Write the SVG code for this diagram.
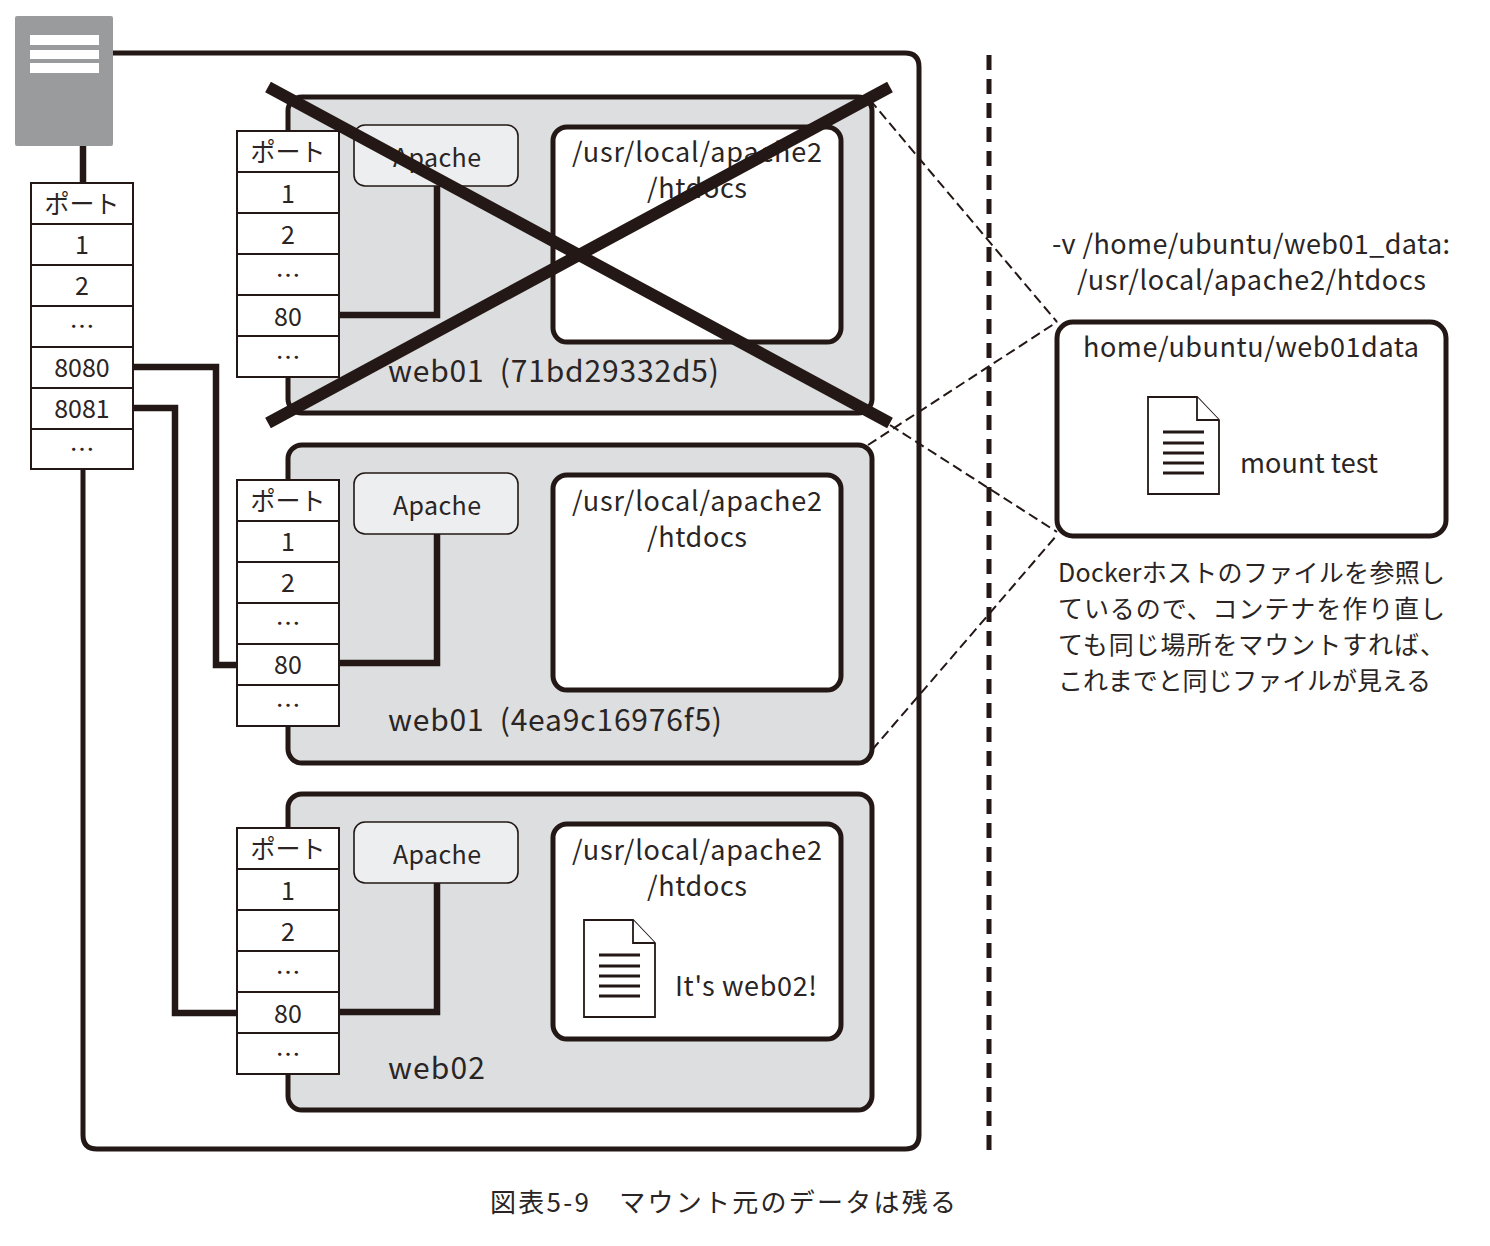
<svg xmlns="http://www.w3.org/2000/svg" xmlns:xlink="http://www.w3.org/1999/xlink" width="1490" height="1246" viewBox="0 0 1490 1246">
<style>
text{font-family:"Noto Sans CJK JP","Noto Sans",sans-serif;fill:#2a2524;font-size:27px}
.m{text-anchor:middle}
.p{font-size:25px;text-anchor:middle}
.j{font-size:25px}
.w{font-size:30px}
.cont{fill:#dcdedf;stroke:#231815;stroke-width:5}
.dir{fill:#fff;stroke:#231815;stroke-width:5}
.ap{fill:#eceeef;stroke:#231815;stroke-width:1.6}
.tb{fill:#fff;stroke:#231815;stroke-width:2}
.ln{fill:none;stroke:#231815;stroke-width:6.5}
.dash{fill:none;stroke:#231815;stroke-width:2;stroke-dasharray:10 5}
.doc{fill:#fff;stroke:#231815;stroke-width:1.8}
.dl{stroke:#231815;stroke-width:3;fill:none}
.x{stroke:#231815;stroke-width:12;fill:none}
</style>
<defs>
<g id="rows">
<rect class="tb" x="0" y="0" width="102" height="246"/>
<path class="dl" style="stroke-width:2" d="M0 41H102M0 82H102M0 123H102M0 164H102M0 205H102"/>
</g>
<g id="docicon">
<path class="doc" d="M0 0H49L71 23V97H0Z"/>
<path class="doc" d="M49 0V23H71"/>
<path class="dl" d="M15 35H56M15 46H56M15 56H56M15 66H56M15 76H56"/>
</g>
</defs>
<rect width="1490" height="1246" fill="#fff"/>

<g id="host">
<path fill="none" stroke="#231815" stroke-width="5" d="M110 53H905Q919 53 919 67V1135Q919 1149 905 1149H97Q83 1149 83 1135V465"/>
</g>

<g id="container-web01-old">
<rect class="cont" x="288" y="97" width="584" height="316" rx="14"/>
<rect class="dir" x="553" y="127" width="288" height="215" rx="14"/>
<text class="m" x="697" y="162" textLength="250">/usr/local/apache2</text>
<text class="m" x="697" y="198" textLength="100">/htdocs</text>
<text class="w" x="388" y="382" textLength="331">web01&#160;&#160;(71bd29332d5)</text>
</g>
<g id="container-web01-new">
<rect class="cont" x="288" y="445" width="584" height="318" rx="14"/>
<rect class="dir" x="553" y="475" width="288" height="215" rx="14"/>
<text class="m" x="697" y="511" textLength="250">/usr/local/apache2</text>
<text class="m" x="697" y="547" textLength="100">/htdocs</text>
<text class="w" x="388" y="731" textLength="334">web01&#160;&#160;(4ea9c16976f5)</text>
</g>
<g id="container-web02">
<rect class="cont" x="288" y="794" width="584" height="316" rx="14"/>
<rect class="dir" x="553" y="824" width="288" height="215" rx="14"/>
<text class="m" x="697" y="860" textLength="250">/usr/local/apache2</text>
<text class="m" x="697" y="896" textLength="100">/htdocs</text>
<use xlink:href="#docicon" href="#docicon" x="584" y="920"/>
<text x="675" y="996" textLength="142">It's web02!</text>
<text class="w" x="388" y="1079" textLength="97">web02</text>
</g>

<g id="connectors">
<path class="ln" d="M83 146V183"/>
<path class="ln" d="M133 367H216V665H237"/>
<path class="ln" d="M133 408H175V1013H237"/>
<path class="ln" d="M437 186V315H338"/>
<path class="ln" d="M437 534V663H338"/>
<path class="ln" d="M437 883V1012H338"/>
<path class="dash" d="M870 100L1057 322"/>
<path class="dash" d="M868 445L1057 322"/>
<path class="dash" d="M890 425L1057 532"/>
<path class="dash" d="M872 750L1057 535"/>
</g>

<g id="server">
<rect x="15" y="16" width="98" height="130" rx="2" fill="#9a9b9d"/>
<path fill="#fff" d="M30 35H99V45H30ZM30 50H99V59H30ZM30 63H99V73H30Z"/>
</g>

<g id="host-ports">
<use xlink:href="#rows" href="#rows" x="31" y="183"/>
<rect class="tb" x="31" y="429" width="102" height="40"/>
<text class="p" x="82" y="213">ポート</text>
<text class="p" x="82" y="254">1</text>
<text class="p" x="82" y="295">2</text>
<text class="p" x="82" y="336">…</text>
<text class="p" x="82" y="377">8080</text>
<text class="p" x="82" y="418">8081</text>
<text class="p" x="82" y="459">…</text>
</g>

<g id="ports-web01-old">
<use xlink:href="#rows" href="#rows" x="237" y="131"/>
<text class="p" x="288" y="161">ポート</text>
<text class="p" x="288" y="203">1</text>
<text class="p" x="288" y="244">2</text>
<text class="p" x="288" y="285">…</text>
<text class="p" x="288" y="326">80</text>
<text class="p" x="288" y="367">…</text>
</g>
<g id="ports-web01-new">
<use xlink:href="#rows" href="#rows" x="237" y="480"/>
<text class="p" x="288" y="510">ポート</text>
<text class="p" x="288" y="551">1</text>
<text class="p" x="288" y="592">2</text>
<text class="p" x="288" y="633">…</text>
<text class="p" x="288" y="674">80</text>
<text class="p" x="288" y="715">…</text>
</g>
<g id="ports-web02">
<use xlink:href="#rows" href="#rows" x="237" y="828"/>
<text class="p" x="288" y="858">ポート</text>
<text class="p" x="288" y="900">1</text>
<text class="p" x="288" y="941">2</text>
<text class="p" x="288" y="982">…</text>
<text class="p" x="288" y="1023">80</text>
<text class="p" x="288" y="1064">…</text>
</g>

<g id="apache-web01-old">
<rect class="ap" x="354" y="125" width="164" height="61" rx="11"/>
<text class="p" x="437" y="167" textLength="88">Apache</text>
</g>
<g id="apache-web01-new">
<rect class="ap" x="354" y="473" width="164" height="61" rx="11"/>
<text class="p" x="437" y="515" textLength="88">Apache</text>
</g>
<g id="apache-web02">
<rect class="ap" x="354" y="822" width="164" height="61" rx="11"/>
<text class="p" x="437" y="864" textLength="88">Apache</text>
</g>

<g id="cross">
<path class="x" d="M268 87L890 423M268 423L890 87"/>
</g>

<g id="divider">
<path fill="none" stroke="#231815" stroke-width="5" stroke-dasharray="15 9" d="M989 55V1150"/>
</g>

<g id="mount-source">
<text x="1052" y="254" textLength="398">-v /home/ubuntu/web01_data:</text>
<text x="1077" y="290" textLength="349">/usr/local/apache2/htdocs</text>
<rect class="dir" x="1057" y="322" width="389" height="214" rx="16"/>
<text x="1083" y="357" textLength="336">home/ubuntu/web01data</text>
<use xlink:href="#docicon" href="#docicon" x="1148" y="397"/>
<text x="1240" y="473" textLength="138">mount test</text>
</g>

<g id="note">
<text class="j" x="1058" y="582" textLength="387">Dockerホストのファイルを参照し</text>
<text class="j" x="1058" y="618" textLength="387">ているので、コンテナを作り直し</text>
<text class="j" x="1058" y="654" textLength="387">ても同じ場所をマウントすれば、</text>
<text class="j" x="1058" y="690" textLength="373">これまでと同じファイルが見える</text>
</g>

<g id="caption">
<text x="490" y="1212" textLength="466" style="font-size:26px">図表5-9　マウント元のデータは残る</text>
</g>
</svg>
